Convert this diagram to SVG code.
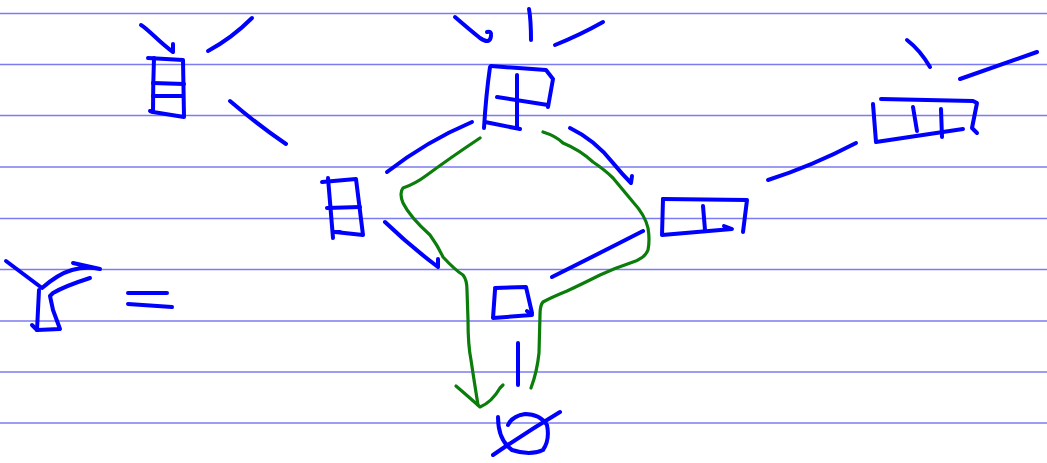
<svg xmlns="http://www.w3.org/2000/svg" width="1047" height="463" viewBox="0 0 1047 463">
<style>
.rule{stroke:#7b7bf2;stroke-width:1.3;fill:none}
.b{stroke:#0000ff;stroke-width:4;fill:none;stroke-linecap:round;stroke-linejoin:round}
.g{stroke:#0a7d0a;stroke-width:3.2;fill:none;stroke-linecap:round;stroke-linejoin:round}
</style>
<rect width="1047" height="463" fill="#ffffff"/>
<g id="rules">
<line class="rule" x1="0" y1="13.5" x2="1047" y2="13.5"/>
<line class="rule" x1="0" y1="64.5" x2="1047" y2="64.5"/>
<line class="rule" x1="0" y1="115.5" x2="1047" y2="115.5"/>
<line class="rule" x1="0" y1="167" x2="1047" y2="167"/>
<line class="rule" x1="0" y1="218.5" x2="1047" y2="218.5"/>
<line class="rule" x1="0" y1="269.5" x2="1047" y2="269.5"/>
<line class="rule" x1="0" y1="321" x2="1047" y2="321"/>
<line class="rule" x1="0" y1="372" x2="1047" y2="372"/>
<line class="rule" x1="0" y1="423" x2="1047" y2="423"/>
</g>
<g id="connectors">
<path class="b" d="M141,25 C148,29 160,43 173,52 L173,44"/>
<path class="b" d="M208,51 Q232,38 252,18"/>
<path class="b" d="M230,101 Q258,125 286,144"/>
<path class="b" d="M455,17 Q470,30 480,38 Q490,45 491,36 Q492,31 487,32"/>
<path class="b" d="M529,9 Q531,20 531,40"/>
<path class="b" d="M555,45 Q580,35 603,22"/>
<path class="b" d="M907,40 Q920,50 930,67"/>
<path class="b" d="M960,79 Q1000,65 1037,52"/>
<path class="b" d="M768,180 Q812,166 856,143"/>
<path class="b" d="M387,172 Q427,141 472,122"/>
<path class="b" d="M385,222 Q410,246 438,267 L438,259"/>
<path class="b" d="M570,128 Q595,140 613,163 Q622,174 631,183 L632,176"/>
<path class="b" d="M552,277 Q600,253 643,231"/>
<path class="b" d="M518,343 L518,385"/>
<path class="g" d="M480,138 Q450,158 427,175 Q415,184 403,188 Q399,193 403,203 Q410,217 430,235 Q438,246 443,257 Q455,270 463,275 Q467,280 467,290 L468,320 Q468,345 471,360 Q474,380 478,405"/>
<path class="g" d="M456,386 Q470,398 480,407 Q492,402 500,388 L503,385"/>
<path class="g" d="M543,132 Q556,136 563,143 Q580,150 593,162 Q605,170 613,178 Q623,190 633,202 Q645,215 648,228 Q650,240 648,250 Q645,258 633,262 Q615,268 600,275 Q580,285 567,291 Q550,298 543,302 Q540,305 540,315 L539,353 Q537,372 531,388"/>
</g>
<g id="node-31">
<path class="b" d="M148,58 L183,60 L184,117 L153,112"/>
<path class="b" d="M154,58 Q153,85 153,112 L150,111"/>
<path class="b" d="M153,83 L184,84"/>
<path class="b" d="M153,96 L182,96"/>
</g>
<g id="node-22">
<path class="b" d="M491,66 L546,70 L553,79 L548,107"/>
<path class="b" d="M490,67 Q486,95 484,128"/>
<path class="b" d="M485,122 L520,129"/>
<path class="b" d="M517,75 L517,128"/>
<path class="b" d="M497,97 L548,105"/>
</g>
<g id="node-3">
<path class="b" d="M881,99 L973,101 L977,103 L972,128 L977,133"/>
<path class="b" d="M873,104 L876,142 L963,129"/>
<path class="b" d="M913,107 L917,131"/>
<path class="b" d="M941,109 L942,137"/>
</g>
<g id="node-11">
<path class="b" d="M322,182 L356,179 L363,235 L335,232"/>
<path class="b" d="M328,178 L333,238"/>
<path class="b" d="M333,232 L340,232"/>
<path class="b" d="M327,208 L360,207"/>
</g>
<g id="node-2">
<path class="b" d="M663,199 L747,200 L743,232"/>
<path class="b" d="M663,199 L662,235 L732,229 L724,226"/>
<path class="b" d="M703,206 L705,230"/>
</g>
<g id="node-1">
<path class="b" d="M495,288 L526,287 L532,313"/>
<path class="b" d="M495,290 L493,318 L532,315 L527,311"/>
</g>
<g id="node-empty">
<path class="b" d="M498,417 Q498,440 512,450 Q530,456 543,450 Q550,440 547,425 Q540,414 525,414 Q512,416 508,425"/>
<path class="b" d="M560,412 Q525,433 493,455"/>
</g>
<g id="operator">
<path class="b" d="M6,261 L42,288 Q58,274 72,270 Q86,266 100,269 L73,263"/>
<path class="b" d="M90,278 Q65,286 53,293 L50,296 L53,310 L60,329 L37,330 L32,325"/>
<path class="b" d="M39,290 L37,330"/>
<path class="b" d="M128,293 L167,293"/>
<path class="b" d="M128,304 L172,307"/>
</g>
</svg>
